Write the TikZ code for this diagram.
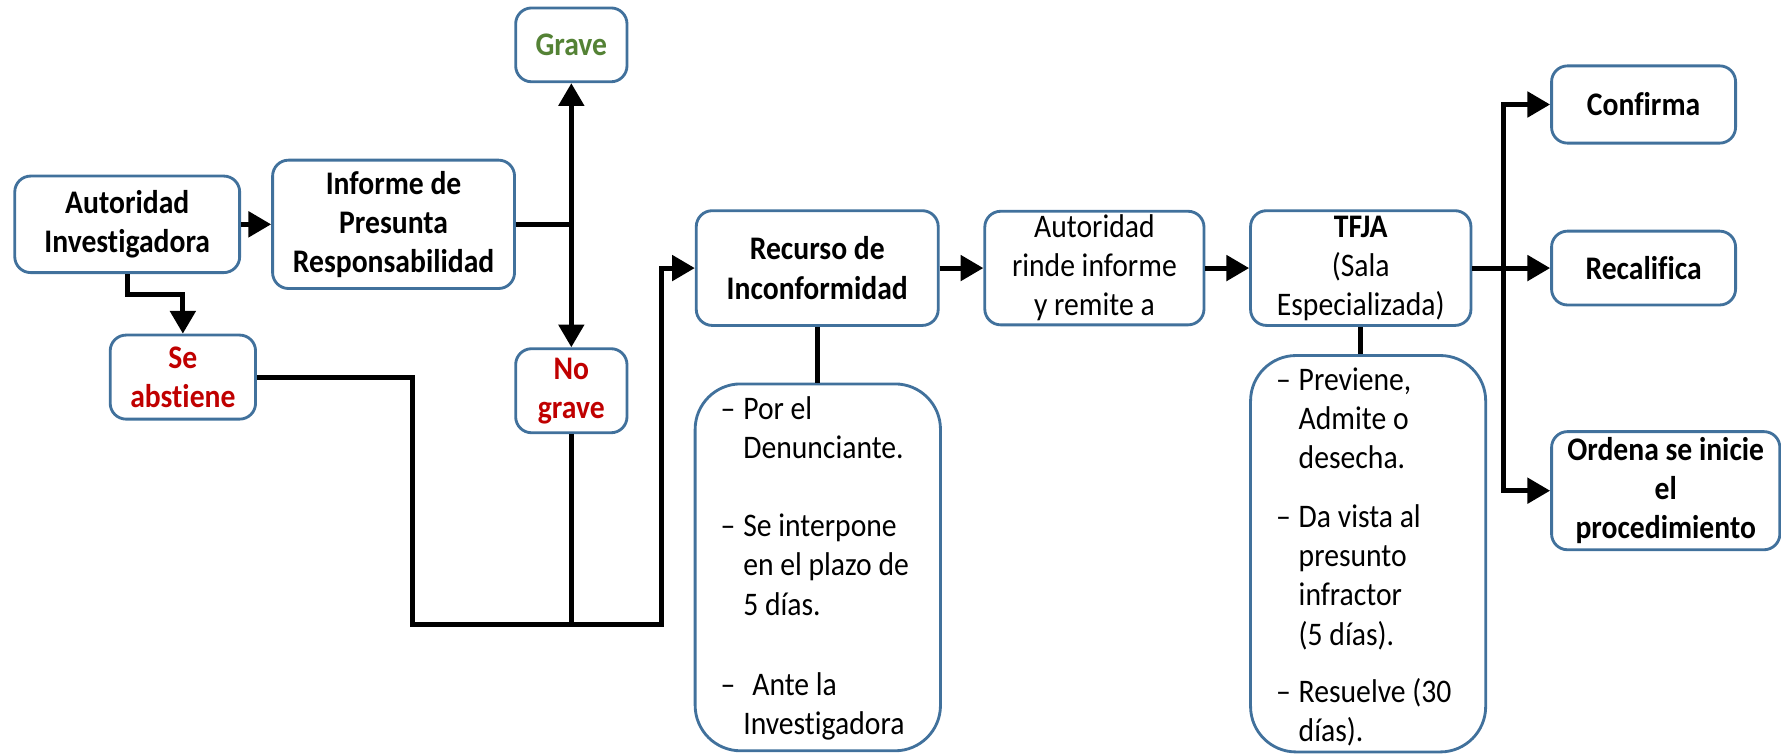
\documentclass[tikz,border=0pt]{standalone}
\usepackage{fontspec}
\setmainfont{Carlito}[FakeStretch=0.9, Ligatures=NoCommon]
\usetikzlibrary{arrows.meta}
\definecolor{boxblue}{RGB}{65,113,156}
\definecolor{gravegreen}{RGB}{84,130,53}
\definecolor{nored}{RGB}{192,0,0}
\newcommand{\dashitem}{\makebox[10pt][l]{–}}
\newcommand{\indentitem}{\hspace*{10pt}}
\tikzset{
  box/.style={draw=boxblue, line width=1.25pt, rounded corners=7pt, fill=white,
    align=center, inner sep=0pt, font=\fontsize{14.5}{17.2}\selectfont},
  boldbox/.style={box, font=\fontsize{14.5}{17.2}\selectfont\bfseries},
  detailbox/.style={draw=boxblue, line width=1.25pt, rounded corners=20pt, inner sep=0pt},
  detailtext/.style={align=left, inner sep=0pt, anchor=north west,
    font=\fontsize{14.5}{17.2}\selectfont},
  conn/.style={line width=2.2pt, draw=black},
  arr/.style={conn, -{Triangle[length=10pt,width=11pt]}},
}
\begin{document}
\begin{tikzpicture}[x=0.5pt,y=-0.5pt]
\useasboundingbox (0,0) rectangle (1568,664);

% boxes
\node[boldbox, minimum width=99pt, minimum height=42.5pt] (ai) at (112,197.5) {Autoridad\\Investigadora};
\node[boldbox, minimum width=106.5pt, minimum height=56.5pt] (inf) at (346.5,197.5) {Informe de\\Presunta\\Responsabilidad};
\node[boldbox, minimum width=49pt, minimum height=32.5pt, text=gravegreen] (grave) at (503,39.5) {Grave};
\node[boldbox, minimum width=49pt, minimum height=37pt, text=nored] (nograve) at (503,344) {No\\grave};
\node[boldbox, minimum width=64pt, minimum height=37pt, text=nored] (se) at (161,332) {Se\\abstiene};
\node[boldbox, minimum width=106.5pt, minimum height=50.5pt] (rec) at (719.5,236) {Recurso de\\Inconformidad};
\node[detailbox, minimum width=108pt, minimum height=161.5pt] (recd) at (720,499.5) {};
\node[box, minimum width=96.5pt, minimum height=50pt] (ar) at (963.5,236) {Autoridad\\rinde informe\\y remite a};
\node[box, minimum width=97pt, minimum height=50.5pt] (tfja) at (1198,236) {\textbf{TFJA}\\(Sala\\Especializada)};
\node[detailbox, minimum width=103.5pt, minimum height=174.5pt] (tfjad) at (1204.5,487.5) {};
\node[boldbox, minimum width=81pt, minimum height=34pt] (conf) at (1447,92) {Confirma};
\node[boldbox, minimum width=81pt, minimum height=32.5pt] (recal) at (1447,236) {Recalifica};
\node[boldbox, minimum width=100.5pt, minimum height=52pt] (ord) at (1466.5,432) {Ordena se inicie\\el\\procedimiento};

% detail texts
\node[detailtext] (rect) at (634,345) {\strut\dashitem Por el\\
\indentitem Denunciante.\\[17.2pt]
\dashitem Se interpone\\
\indentitem en el plazo de\\
\indentitem 5 días.\\[18pt]
\dashitem\hspace*{4pt}Ante la\\
\indentitem Investigadora};
\node[detailtext] (tfjat) at (1123,319) {\strut\dashitem Previene,\\
\indentitem Admite o\\
\indentitem desecha.\\[9pt]
\dashitem Da vista al\\
\indentitem presunto\\
\indentitem infractor\\
\indentitem (5 días).\\[8pt]
\dashitem Resuelve (30\\
\indentitem días).};

% junction coordinates
\coordinate (tj) at (503,197.5);
\coordinate (c1) at (363,550);
\coordinate (c2) at (582,550);
\coordinate (tb) at (1324,236);

% connectors
\draw[arr] (ai.east) -- (inf.west);
\draw[arr] (ai.south) -- ++(0,18) -| (se.north);
\draw[conn] (inf.east) -- (tj);
\draw[arr] (tj) -- (grave.south);
\draw[arr] (tj) -- (nograve.north);
\draw[conn] (nograve.south) -- (nograve.south |- c1);
\draw[arr] (se.east) -| (c1) -- (c2) |- (rec.west);
\draw[conn] (rec.south) -- (rec.south |- recd.north);
\draw[arr] (rec.east) -- (ar.west);
\draw[arr] (ar.east) -- (tfja.west);
\draw[conn] (tfja.south) -- (tfja.south |- tfjad.north);
\draw[arr] (tfja.east) -- (recal.west);
\draw[arr] (tb) |- (conf.west);
\draw[arr] (tb) |- (ord.west);
\end{tikzpicture}
\end{document}
